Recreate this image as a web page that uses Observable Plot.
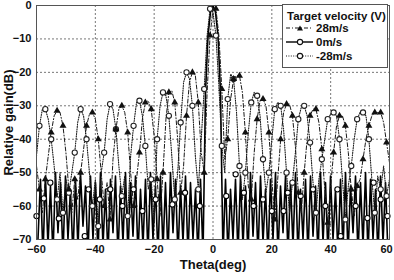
<!DOCTYPE html>
<html>
<head>
<meta charset="utf-8">
<script src="https://cdn.jsdelivr.net/npm/d3@7"></script>
<script src="https://cdn.jsdelivr.net/npm/@observablehq/plot@0.6"></script>
<style>
  body { margin: 0; background: #fff; }
  #wrap { position: relative; width: 394px; height: 280px; font-family: "Liberation Sans", Arial, sans-serif; }
  #legend { position: absolute; left: 282px; top: 4px; width: 104px; height: 62px; border: 1px solid #555; background: #fff; font-weight: bold; font-size: 11.5px; color: #111; }
  #legend .title { position: absolute; left: 4px; top: 5px; white-space: nowrap; }
  #legend .row { position: absolute; left: 2px; height: 14px; display: flex; align-items: center; white-space: nowrap; }
  #legend svg { margin-right: 3px; }
</style>
</head>
<body>
<div id="wrap"></div>
<script>
// ---- data ----
const seriesNames = ["28m/s", "0m/s", "-28m/s"];
const xTicks = [-60, -40, -20, 0, 20, 40, 60];
const yTicks = [0, -10, -20, -30, -40, -50, -60, -70];

// moving-target series sampled every 1 degree from -60 to 60
const movingTheta = d3.range(-60, 61, 1);
const gainPlus28 = [
  -48, -55, -62, -52, -45, -38, -33, -31.5, -32, -36,
  -44, -55, -62, -52, -58, -50, -43, -36, -32.5, -32,
  -34, -40, -50, -60, -53, -64, -46, -37, -31, -30,
  -32, -38, -50, -60, -52, -44, -34, -29, -28.5, -31,
  -39, -52, -63, -50, -34, -26, -25.5, -29, -40, -56,
  -48, -33, -23, -20, -21, -29, -44, -50, -26, -9,
  -1,
  -1, -9, -25, -46, -40, -28, -22, -21, -21, -26,
  -38, -54, -58, -44, -34, -28.5, -28, -30, -38, -52,
  -64, -52, -40, -32, -29.5, -29.5, -33, -42, -56, -62,
  -50, -40, -33, -31, -31, -35, -43, -55, -65, -54,
  -44, -36, -33, -33, -36, -44, -55, -63, -54, -52,
  -46, -40, -36, -33, -32, -32, -32, -35, -41, -47
];
const gainMinus28 = [
  -45, -36, -31, -31, -34, -40, -48, -58, -50, -62,
  -52, -56, -50, -44, -35, -31, -33, -40, -50, -60,
  -52, -66, -50, -44, -34, -29.5, -31, -37, -48, -57,
  -51, -63, -45, -36, -29, -28.5, -33, -42, -55, -52,
  -65, -40, -30, -26, -27, -33, -45, -58, -50, -35,
  -23, -20, -22, -30, -45, -55, -40, -25, -9, -1,
  -2,
  -9, -24, -42, -50, -28, -20.5, -22, -32, -48, -58,
  -50, -38, -29, -26, -27, -33, -46, -56, -50, -40,
  -31, -29, -30, -37, -50, -62, -53, -44, -34, -30.5,
  -30, -33, -41, -53, -62, -52, -46, -40, -34, -32.5,
  -32, -33, -40, -52, -64, -54, -48, -40, -34, -32,
  -32, -33, -40, -52, -62, -51, -55, -48, -57, -52
];

// stationary target: samples every 0.85 degree (peaks and nulls), -59.5 .. 59.5
const zeroTheta = d3.range(-70, 71).map(k => +(k * 0.85).toFixed(2));
const gainZero = [
  -70, -52, -75, -51, -72, -54, -75, -50, -68, -53,
  -75, -51, -70, -55, -75, -52, -73, -50, -66, -54,
  -75, -51, -70, -53, -75, -50, -72, -55, -75, -52,
  -68, -51, -75, -54, -71, -50, -75, -53, -69, -51,
  -75, -55, -72, -52, -75, -50, -70, -54, -75, -51,
  -73, -53, -75, -50, -68, -52, -75, -54, -71, -51,
  -75, -53, -70, -55, -75, -52, -75, -26, -9, -2,
  0,
  -2, -9, -26, -75, -52, -75, -55, -70, -52, -75,
  -51, -72, -54, -75, -50, -69, -53, -75, -51, -71,
  -55, -75, -52, -70, -50, -75, -54, -68, -51, -75,
  -53, -72, -50, -75, -55, -70, -52, -75, -51, -69,
  -54, -75, -50, -71, -53, -75, -51, -70, -55, -75,
  -52, -73, -50, -75, -54, -68, -51, -75, -53, -72,
  -50, -75, -52, -70, -55, -75, -51, -71, -53, -75
];
// marker positions of the 0m/s curve
const zeroMarkTheta = [-60, -57.5, -55.3, -52.4, -43.6, -42.3, -38.5, -34.9, -30.8, -27, -24, -19.5, -13.8, -9.5, -4.5,
  4.5, 7.7, 10.5, 13.8, 17, 20, 24, 25.4, 29.8, 34, 38.2, 42.3, 43.4, 48.5, 52.5, 54.6, 57, 59.3];
const zeroMarkGain = [-63, -57.7, -53, -63.7, -69, -55, -58, -55, -60, -55, -61.5, -58, -59.5, -56, -60,
  -57, -50.5, -56, -60, -58, -61.5, -61.5, -56, -57, -55, -60, -55, -69, -60, -63.6, -53, -58, -63];

// ---- tables ----
const plus = movingTheta.map((t, i) => ({theta: t, gain: gainPlus28[i], i}));
const minus = movingTheta.map((t, i) => ({theta: t, gain: gainMinus28[i], i}));
const zero = zeroTheta.map((t, i) => ({theta: t, gain: gainZero[i]}));
const zeroMarks = zeroMarkTheta.map((t, i) => ({theta: t, gain: zeroMarkGain[i]}));

const lineColor = "#1a1a1a";
const dashPlus = "4,2,1,2";
const dashMinus = "1,1.4";

const chart = Plot.plot({
  width: 394,
  height: 280,
  marginLeft: 36,
  marginRight: 5,
  marginTop: 5,
  marginBottom: 41,
  style: {fontFamily: "'Liberation Sans', Arial, sans-serif", fontSize: "11px", fontWeight: "bold", background: "#fff", color: "#111"},
  x: {domain: [-60, 60]},
  y: {domain: [-70, 0]},
  marks: [
    Plot.gridX(xTicks.slice(1, -1), {stroke: "#777", strokeOpacity: 1, strokeDasharray: "2,2"}),
    Plot.gridY(yTicks.slice(1, -1), {stroke: "#777", strokeOpacity: 1, strokeDasharray: "2,2"}),
    Plot.line(zero, {x: "theta", y: "gain", stroke: "#000", strokeWidth: 1.6, clip: true}),
    Plot.line(plus, {x: "theta", y: "gain", stroke: lineColor, strokeWidth: 1, strokeDasharray: dashPlus, clip: true}),
    Plot.line(minus, {x: "theta", y: "gain", stroke: lineColor, strokeWidth: 1.1, strokeDasharray: dashMinus, clip: true}),
    Plot.dot(zeroMarks, {x: "theta", y: "gain", symbol: "circle", r: 2.6, fill: "#fff", stroke: "#000", strokeWidth: 1.1}),
    Plot.dot(minus.filter(d => d.i % 2 === 1), {x: "theta", y: "gain", symbol: "circle", r: 2.6, fill: "#fff", stroke: "#222", strokeWidth: 1.1}),
    Plot.dot(plus.filter(d => d.i % 2 === 1), {x: "theta", y: "gain", symbol: "triangle", r: 2.6, fill: "#111", stroke: "none"}),
    Plot.frame({stroke: "#555"}),
    Plot.axisX(xTicks.slice(0, -1), {tickSize: 0, tickPadding: 6, label: null, fontSize: 11, fontWeight: "bold"}),
    Plot.axisX(xTicks.slice(-1), {tickSize: 0, tickPadding: 6, label: null, fontSize: 11, fontWeight: "bold", dx: -3}),
    Plot.axisY(yTicks, {tickSize: 0, tickPadding: 5, label: null, fontSize: 11, fontWeight: "bold"}),
    Plot.text(["Theta(deg)"], {frameAnchor: "bottom", dy: 29, textAnchor: "middle", fontSize: 13, fontWeight: "bold"}),
    Plot.text(["Relative gain(dB)"], {frameAnchor: "left", dx: -28, rotate: -90, textAnchor: "middle", fontSize: 13, fontWeight: "bold"})
  ]
});

const wrap = document.getElementById("wrap");
wrap.appendChild(chart);

// legend
const legend = document.createElement("div");
legend.id = "legend";
const legendStyles = [
  {dash: dashPlus, marker: "tri", solid: false},
  {dash: null, marker: "circ", solid: true},
  {dash: dashMinus, marker: "circ", solid: false}
];
let html = '<div class="title">Target velocity (V)</div>';
seriesNames.forEach((name, i) => {
  const s = legendStyles[i];
  const top = 16 + i * 14;
  const marker = s.marker === "tri"
    ? '<path d="M15,3.5 L18,8.5 L12,8.5 Z" fill="#111"/>'
    : '<circle cx="15" cy="6" r="2.6" fill="#fff" stroke="#111" stroke-width="1.1"/>';
  html += `<div class="row" style="top:${top}px"><svg width="28" height="12"><line x1="1" y1="6" x2="28" y2="6" stroke="${s.solid ? '#000' : lineColor}" stroke-width="${s.solid ? 1.4 : 1.1}" ${s.dash ? `stroke-dasharray="${s.dash}"` : ""}/>${marker}</svg><span>${name}</span></div>`;
});
legend.innerHTML = html;
wrap.appendChild(legend);
</script>
</body>
</html>
